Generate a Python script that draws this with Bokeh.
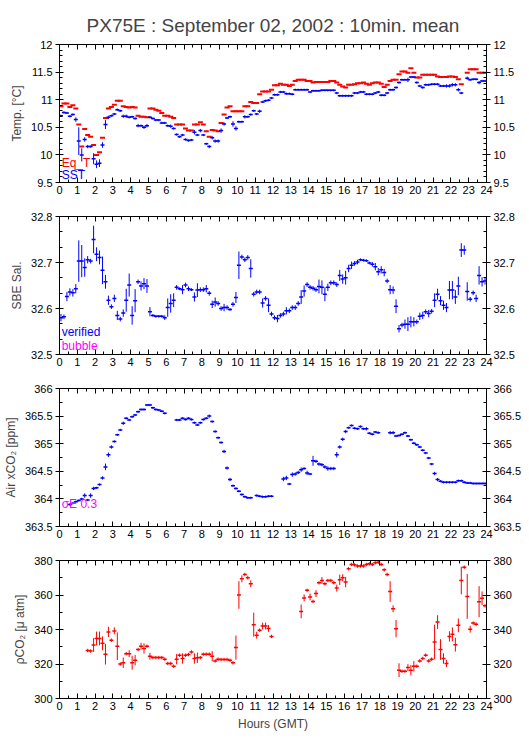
import numpy as np
from bokeh.plotting import figure
from bokeh.models import Range1d, LinearAxis, FixedTicker, ColumnDataSource, Label
from bokeh.layouts import column
from bokeh.embed import file_html
from bokeh.resources import INLINE

nan = float("nan")
FONT = "Liberation Sans"

title_text = "PX75E : September 02, 2002 : 10min. mean"

# 10-minute slots (144 per day); value of slot k is plotted at its mid-time
slot_minutes = list(range(5, 1440, 10))

hour_ticks = list(range(0, 25))
hour_labels = [str(h) for h in hour_ticks]

# ---------------- Panel 1: temperatures ----------------
eqt = [10.88, 10.93, 10.93, 10.87, 10.90, 10.84,
       10.55, 10.15, 10.47, 10.36, 10.33, 10.18,
       10.00, 10.05, 10.31, 10.67, 10.84, 10.87,
       10.91, 10.98, 10.98, 10.88, 10.87, 10.86,
       10.87, 10.86, 10.71, 10.69, 10.69, 10.68,
       10.84, 10.84, 10.82, 10.80, 10.76, 10.71,
       10.71, 10.69, 10.67, 10.55, 10.55, 10.55,
       10.48, 10.44, 10.44, 10.55, 10.55, 10.59,
       10.55, 10.43, 10.33, 10.45, 10.44, 10.43,
       10.58, 10.73, 10.86, 10.88, 10.79, 10.79,
       10.79, 10.79, 10.88, 10.88, 10.96, 10.94,
       10.94, 11.10, 11.15, 11.15, 11.15, 11.18,
       11.26, 11.26, 11.29, 11.27, 11.27, 11.25,
       11.27, 11.34, 11.36, 11.36, 11.36, 11.34,
       11.34, 11.31, 11.32, 11.32, 11.32, 11.32,
       11.32, 11.34, 11.34, 11.31, 11.27, 11.24,
       11.22, 11.27, 11.27, 11.28, 11.30, 11.30,
       11.31, 11.29, 11.27, 11.30, 11.31, 11.31,
       11.29, 11.23, 11.27, 11.34, 11.36, 11.36,
       11.46, 11.51, 11.51, 11.49, 11.57, 11.49,
       11.40, 11.40, 11.45, 11.45, 11.45, 11.45,
       11.45, 11.42, 11.41, 11.41, 11.41, 11.42,
       11.42, 11.41, 11.37, 11.28, nan, 11.49,
       11.55, 11.55, 11.55, 11.49, 11.49, 11.49]

sst = [10.71, 10.77, 10.76, 10.70, 10.73, 10.64,
       10.25, 10.00, 10.28, 10.15, 10.15, 9.93,
       9.83, 9.85, 10.18, 10.55, 10.68, 10.71,
       10.74, 10.82, 10.80, 10.70, 10.70, 10.68,
       10.69, 10.66, 10.53, 10.53, 10.50, 10.53,
       10.68, 10.66, 10.63, 10.63, 10.58, 10.58,
       10.53, 10.52, 10.48, 10.37, 10.33, 10.36,
       10.28, 10.26, 10.27, 10.41, 10.36, 10.44,
       10.36, 10.20, 10.15, 10.31, 10.25, 10.25,
       10.44, 10.56, 10.67, 10.69, 10.56, 10.48,
       10.60, 10.60, 10.69, 10.69, 10.73, 10.80,
       10.74, 10.79, 10.96, 10.98, 10.99, 11.03,
       11.09, 11.09, 11.14, 11.14, 11.11, 11.11,
       11.10, 11.18, 11.18, 11.18, 11.18, 11.18,
       11.14, 11.16, 11.16, 11.16, 11.17, 11.17,
       11.17, 11.17, 11.17, 11.12, 11.07, 11.07,
       11.07, 11.07, 11.07, 11.12, 11.12, 11.14,
       11.14, 11.10, 11.10, 11.10, 11.12, 11.14,
       11.08, 11.08, 11.12, 11.18, 11.18, 11.22,
       11.31, 11.36, 11.36, 11.36, 11.41, 11.41,
       11.31, 11.25, 11.22, 11.27, 11.27, 11.28,
       11.28, 11.28, 11.25, 11.25, 11.25, 11.25,
       11.27, 11.27, 11.18, 11.12, nan, 11.39,
       11.36, 11.37, 11.37, 11.31, 11.34, 11.34]

sst_err = [.02, .02, .02, .02, .02, .04,
           .25, .12, .04, .03, .02, .10,
           .07, .07, .05, .08, .03, .02,
           .02, .02, .02, .03, .03, .02,
           .02, .02, .03, .02, .03, .03,
           .02, .02, .02, .02, .02, .02,
           .02, .03, .02, .02, .02, .02,
           .02, .02, .02, .04, .02, .03,
           .02, .02, .03, .03, .03, .03,
           .04, .03, .02, .02, .05, .04,
           .02, .02, .03, .02, .02, .02,
           .02, .03, .02, .02, .02, .02,
           .02, .02, .02, .02, .02, .02,
           .02, .02, .02, .02, .02, .02,
           .02, .02, .02, .02, .02, .02,
           .02, .02, .02, .02, .02, .02,
           .02, .02, .02, .02, .02, .02,
           .02, .02, .02, .02, .02, .02,
           .02, .02, .02, .02, .02, .02,
           .02, .02, .02, .04, .02, .02,
           .02, .02, .02, .02, .02, .02,
           .02, .02, .02, .02, .03, .03,
           .03, .03, .03, .02, .00, .03,
           .02, .02, .02, .03, .02, .02]

temp_ticks = [9.5, 10, 10.5, 11, 11.5, 12]
temp_labels = ["9.5", "10", "10.5", "11", "11.5", "12"]

# ---------------- Panel 2: salinity ----------------
sal = [32.580, 32.582, 32.626, 32.636, 32.634, 32.643,
       32.703, 32.703, 32.689, 32.706, 32.703, 32.750,
       32.718, 32.711, 32.683, 32.658, 32.618, 32.604,
       32.622, 32.585, 32.577, 32.590, 32.618, 32.651,
       32.585, 32.617, 32.658, 32.649, 32.654, 32.649,
       32.593, 32.585, 32.583, 32.583, 32.583, 32.580,
       32.602, 32.611, 32.618, 32.646, 32.643, 32.641,
       32.651, 32.643, 32.641, 32.625, 32.640, 32.641,
       32.641, 32.643, 32.633, 32.609, 32.614, 32.611,
       32.600, 32.602, 32.602, 32.598, 32.609, 32.624,
       32.694, 32.712, 32.706, 32.711, 32.687, 32.631,
       32.636, 32.636, 32.612, 32.622, 32.607, 32.588,
       32.580, 32.578, 32.585, 32.588, 32.595, 32.595,
       32.602, 32.602, 32.611, 32.625, 32.638, 32.652,
       32.646, 32.644, 32.641, 32.648, 32.646, 32.631,
       32.646, 32.656, 32.656, 32.652, 32.672, 32.664,
       32.667, 32.687, 32.694, 32.698, 32.701, 32.706,
       32.705, 32.704, 32.699, 32.696, 32.691, 32.680,
       32.684, 32.678, 32.660, 32.641, 32.640, 32.605,
       32.556, 32.564, 32.566, 32.566, 32.571, 32.571,
       32.571, 32.583, 32.585, 32.593, 32.589, 32.594,
       32.618, 32.631, 32.617, 32.607, 32.602, 32.640,
       32.640, 32.625, 32.649, 32.727, 32.727, 32.637,
       32.620, 32.634, 32.622, 32.672, 32.658, 32.660]

sal_err = [.008, .005, .010, .008, .008, .010,
           .045, .035, .020, .008, .005, .030,
           .015, .015, .030, .015, .010, .005,
           .008, .010, .005, .008, .025, .025,
           .020, .025, .005, .010, .012, .015,
           .010, .003, .003, .003, .003, .005,
           .020, .020, .015, .005, .003, .010,
           .005, .005, .003, .010, .015, .005,
           .005, .008, .005, .008, .010, .005,
           .005, .008, .005, .003, .005, .012,
           .030, .005, .005, .005, .020, .005,
           .005, .005, .010, .005, .015, .005,
           .005, .008, .005, .005, .008, .005,
           .005, .005, .005, .015, .012, .005,
           .005, .005, .005, .015, .015, .015,
           .008, .005, .005, .005, .012, .010,
           .015, .008, .008, .005, .005, .003,
           .003, .003, .003, .005, .008, .008,
           .008, .008, .005, .010, .008, .015,
           .008, .005, .010, .015, .012, .010,
           .005, .008, .008, .005, .008, .005,
           .015, .012, .010, .010, .010, .020,
           .020, .015, .020, .015, .010, .020,
           .005, .005, .008, .020, .010, .008]

sal_ticks = [32.5, 32.6, 32.7, 32.8]
sal_labels = ["32.5", "32.6", "32.7", "32.8"]

# ---------------- Panel 3: air xCO2 ----------------
air = [nan, nan, nan, 363.90, 363.92, 363.95,
       363.97, 364.00, 364.06, 363.98, 364.06, 364.19,
       364.20, 364.26, 364.38, 364.58, 364.80, 364.94,
       365.04, 365.16, 365.25, 365.37, 365.46, 365.43,
       365.49, 365.52, 365.58, 365.62, 365.62, 365.70,
       365.70, 365.65, 365.62, 365.61, 365.59, 365.55,
       nan, nan, nan, 365.43, 365.43, 365.46,
       365.44, 365.46, 365.44, 365.38, 365.34, 365.38,
       365.44, 365.46, 365.50, 365.40, 365.22, 365.11,
       365.02, 364.86, 364.56, 364.35, 364.24, 364.19,
       364.14, 364.08, 364.04, 364.02, 364.02, nan,
       364.06, 364.05, 364.04, 364.04, 364.05, 364.05,
       nan, nan, nan, 364.36, 364.38, 364.27,
       364.44, 364.45, 364.48, 364.53, 364.55, 364.47,
       364.45, 364.69, 364.68, 364.63, 364.62, 364.58,
       364.55, 364.55, 364.55, 364.80, 364.94, 365.08,
       365.22, 365.29, 365.33, 365.28, 365.27, 365.31,
       365.27, 365.27, 365.19, 365.17, 365.21, 365.20,
       nan, nan, nan, 365.20, 365.20, 365.14,
       365.15, 365.17, 365.20, 365.14, 365.07, 365.01,
       364.98, 364.94, 364.88, 364.83, 364.74, 364.63,
       364.46, 364.35, 364.32, 364.30, 364.30, 364.30,
       364.30, 364.30, 364.33, 364.33, 364.30, 364.29,
       364.29, 364.28, 364.28, 364.28, 364.28, 364.28]

air_err = [0, 0, 0, .02, .02, .02,
           .02, .02, .04, .02, .04, .03,
           .02, .02, .03, .06, .04, .03,
           .02, .02, .02, .03, .02, .02,
           .02, .02, .02, .02, .02, .02,
           .02, .02, .02, .02, .02, .02,
           0, 0, 0, .02, .02, .02,
           .02, .02, .02, .02, .02, .02,
           .02, .02, .03, .02, .02, .02,
           .02, .03, .03, .03, .02, .02,
           .02, .02, .02, .02, .02, 0,
           .02, .02, .02, .02, .02, .02,
           0, 0, 0, .04, .04, .02,
           .04, .03, .03, .04, .02, .04,
           .02, .09, .03, .03, .03, .03,
           .04, .03, .03, .05, .03, .03,
           .03, .02, .02, .02, .02, .02,
           .02, .03, .02, .02, .02, .02,
           0, 0, 0, .03, .03, .02,
           .02, .02, .02, .02, .02, .02,
           .02, .02, .02, .02, .02, .02,
           .03, .03, .02, .02, .02, .02,
           .02, .02, .02, .02, .02, .02,
           .02, .02, .02, .02, .02, .02]

air_ticks = [363.5, 364, 364.5, 365, 365.5, 366]
air_labels = ["363.5", "364", "364.5", "365", "365.5", "366"]

# ---------------- Panel 4: pCO2 ----------------
pco2 = [nan, nan, nan, nan, nan, nan,
        nan, nan, nan, 327.8, 327.5, 331.0,
        334.8, 334.8, 332.0, 325.7, 338.6, 333.8,
        339.2, 330.3, 320.0, 320.7, 326.0, 326.0,
        320.7, 322.2, 328.4, 330.3, 329.0, 330.3,
        324.5, 323.7, 323.7, 323.7, 323.7, 322.8,
        320.3, 320.3, 318.7, 322.8, 325.1, 323.2,
        325.1, 325.5, 327.0, 323.2, 323.6, 323.7,
        325.7, 325.7, 325.7, 324.5, 321.8, 322.8,
        322.6, 322.6, 322.6, 322.2, 320.7, 329.5,
        360.0, 369.4, 371.9, 370.0, 366.5, 342.8,
        336.7, 339.6, 342.0, 342.0, 340.6, 336.0,
        nan, nan, nan, nan, nan, nan,
        nan, nan, nan, 350.5, 358.3, 362.7,
        358.9, 356.3, 360.8, 367.1, 368.4, 366.5,
        368.4, 368.4, 367.1, 364.0, 368.8, 370.0,
        367.5, 375.2, 377.7, 377.5, 376.8, 376.8,
        376.8, 377.7, 378.1, 377.7, 378.7, 379.0,
        377.7, 374.6, 371.9, 362.0, 352.0, 340.5,
        316.4, 315.8, 315.8, 317.9, 316.4, 318.7,
        318.7, 321.8, 323.2, 325.1, 321.8, 322.8,
        332.8, 344.3, 328.4, 323.2, 320.3, 336.0,
        337.2, 331.2, 342.4, 368.4, 376.1, 359.2,
        340.2, 343.7, 343.1, 356.1, 358.1, 353.7]

pco2_err = [0, 0, 0, 0, 0, 0,
            0, 0, 0, 1, 1, 4,
            4, 4, 4, 6, 3, 1,
            2, 8, 1, 3, 1, 2,
            4, 3, 1, 2, 3, 1,
            2, 1, 1, 1, 1, 1,
            1, 1, 1, 3, 1, 3,
            1, 1, 1, 3, 3, 1,
            1, 1, 1, 3, 1, 1,
            1, 1, 1, 1, 1, 7,
            8, 2, 1, 1, 2, 7,
            2, 1, 2, 2, 2, 1,
            0, 0, 0, 0, 0, 0,
            0, 0, 0, 4, 2, 1,
            2, 1, 2, 1, 2, 1,
            1, 1, 1, 2, 3, 2,
            3, 1, 1, 1, 1, 1,
            1, 1, 1, 1, 1, 1,
            1, 1, 1, 6, 2, 5,
            4, 1, 1, 2, 3, 3,
            1, 1, 1, 1, 1, 1,
            10, 4, 6, 3, 2, 3,
            4, 4, 4, 8, 1, 13,
            2, 1, 1, 9, 4, 1]

pco2_ticks = [300, 320, 340, 360, 380]
pco2_labels = ["300", "320", "340", "360", "380"]

t_hours = np.array(slot_minutes) / 60.0

BLUE = "#0000ff"
RED = "#ff0000"
MAGENTA = "#ff00ff"


def style_axis(ax, show_labels, vertical):
    ax.axis_line_color = "black"
    ax.major_tick_line_color = "black"
    ax.minor_tick_line_color = "black"
    ax.major_label_text_font = FONT
    ax.major_label_text_font_size = "11px"
    ax.major_label_text_color = "black" if show_labels else None
    ax.major_label_standoff = 3
    if vertical:
        ax.major_tick_in = 4
        ax.major_tick_out = 4
        ax.minor_tick_in = 3
        ax.minor_tick_out = 0
    else:
        ax.major_tick_in = 5
        ax.major_tick_out = 0
        ax.minor_tick_in = 3
        ax.minor_tick_out = 0


def make_panel(yticks, ylabels, minor_step, ylabel, top, bottom):
    p = figure(frame_width=427, frame_height=138,
               x_range=Range1d(0, 24), y_range=Range1d(yticks[0], yticks[-1]),
               output_backend="svg", toolbar_location=None,
               min_border_left=50, min_border_right=44,
               min_border_top=top, min_border_bottom=bottom)
    p.grid.visible = False
    p.outline_line_color = "black"
    p.background_fill_color = "white"
    p.border_fill_color = "white"

    xminor = list(np.arange(0, 24.01, 0.5))
    yminor = list(np.arange(yticks[0], yticks[-1] + minor_step / 2, minor_step))
    overrides_x = {h: lab for h, lab in zip(hour_ticks, hour_labels)}
    overrides_y = {v: lab for v, lab in zip(yticks, ylabels)}

    xb = p.xaxis[0]
    xb.ticker = FixedTicker(ticks=hour_ticks, minor_ticks=xminor)
    xb.major_label_overrides = overrides_x
    style_axis(xb, True, False)

    xt = LinearAxis(ticker=FixedTicker(ticks=hour_ticks, minor_ticks=xminor))
    style_axis(xt, False, False)
    xt.major_label_standoff = 0
    p.add_layout(xt, "above")

    yl = p.yaxis[0]
    yl.ticker = FixedTicker(ticks=yticks, minor_ticks=yminor)
    yl.major_label_overrides = overrides_y
    style_axis(yl, True, True)
    yl.axis_label = ylabel
    yl.axis_label_text_font = FONT
    yl.axis_label_text_font_size = "12px"
    yl.axis_label_text_font_style = "normal"
    yl.axis_label_standoff = 4

    yr_ax = LinearAxis(ticker=FixedTicker(ticks=yticks, minor_ticks=yminor))
    yr_ax.major_label_overrides = overrides_y
    style_axis(yr_ax, True, True)
    p.add_layout(yr_ax, "right")
    return p, xb


def add_series(p, vals, errs, color, dash_size, dash_width):
    v = np.array(vals, dtype=float)
    src = ColumnDataSource(dict(t=t_hours, v=v))
    if errs is not None:
        e = np.array(errs, dtype=float)
        seg = ColumnDataSource(dict(t=t_hours, lo=v - e, hi=v + e))
        p.segment(x0="t", y0="lo", x1="t", y1="hi", source=seg,
                  line_color=color, line_width=1)
    p.scatter(x="t", y="v", source=src, marker="dash", size=dash_size,
              line_color=color, line_width=dash_width)


def add_text(p, x, y, text, color):
    p.add_layout(Label(x=x, y=y, text=text, text_color=color, text_font=FONT,
                       text_font_size="12px", text_baseline="middle"))


p1, _ = make_panel(temp_ticks, temp_labels, 0.1, "Temp. [°C]", 44, 17)
p1.title.text = title_text
p1.title.align = "center"
p1.title.text_font = FONT
p1.title.text_font_size = "19px"
p1.title.text_font_style = "normal"
p1.title.standoff = 18
add_series(p1, eqt, None, RED, 5, 2)
add_series(p1, sst, sst_err, BLUE, 4, 1.5)
add_text(p1, 0.12, 9.85, "Eq_T", RED)
add_text(p1, 0.12, 9.63, "SST", BLUE)

p2, _ = make_panel(sal_ticks, sal_labels, 0.1 / 3, "SBE Sal.", 17, 17)
add_series(p2, sal, sal_err, BLUE, 4, 1.5)
add_text(p2, 0.12, 32.548, "verified", BLUE)
add_text(p2, 0.12, 32.519, "bubble", MAGENTA)

p3, _ = make_panel(air_ticks, air_labels, 0.25, "Air xCO₂ [ppm]", 17, 17)
add_series(p3, air, air_err, BLUE, 4, 1.5)
add_text(p3, 0.12, 363.9, "σE 0.3", MAGENTA)

p4, xb4 = make_panel(pco2_ticks, pco2_labels, 10, "ρCO₂ [μ atm]", 17, 36)
add_series(p4, pco2, pco2_err, RED, 4, 1.5)
xb4.axis_label = "Hours (GMT)"
xb4.axis_label_text_font = FONT
xb4.axis_label_text_font_size = "12px"
xb4.axis_label_text_font_style = "normal"
xb4.axis_label_standoff = 4

layout = column(p1, p2, p3, p4, spacing=0)
open("out.html", "w").write(file_html(layout, INLINE))
